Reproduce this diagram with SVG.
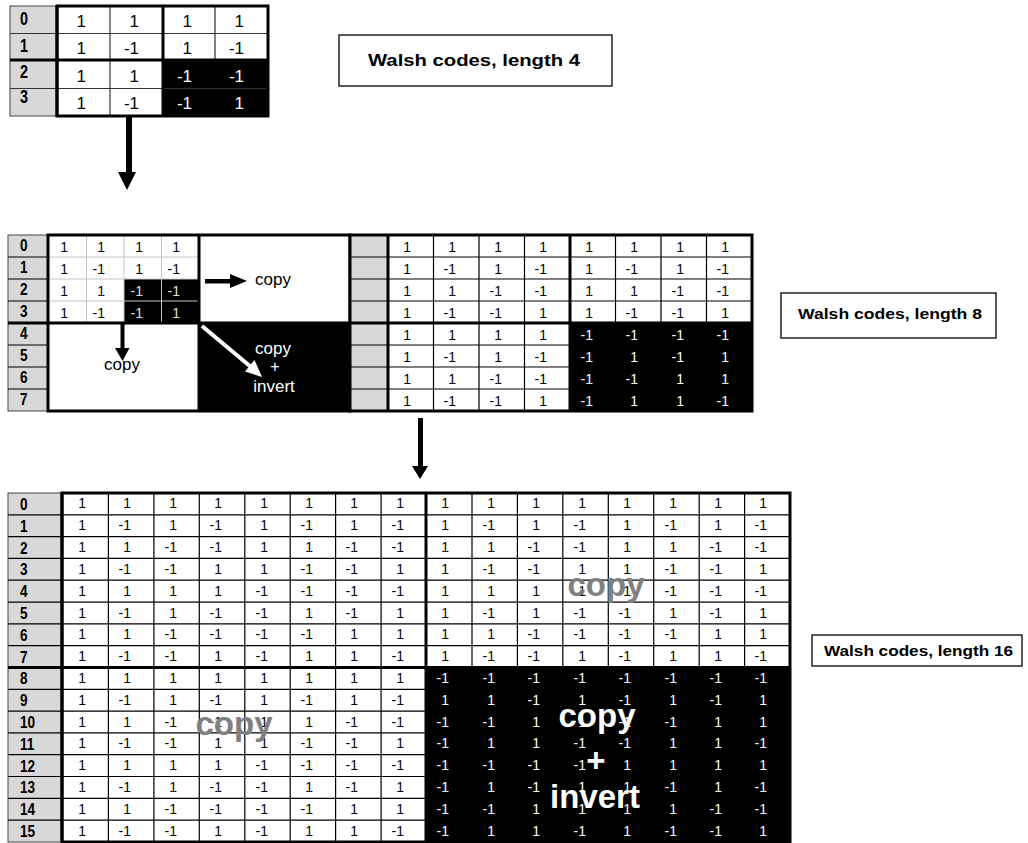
<svg xmlns="http://www.w3.org/2000/svg" width="1028" height="843" viewBox="0 0 1028 843">
<style>
.v{font-family:"Liberation Sans",Arial,sans-serif;font-size:14px;text-anchor:end;fill:#000}
.vt{font-size:17px}
.lab{font-family:"Liberation Sans",Arial,sans-serif;font-weight:bold;font-size:17px;fill:#000}
.gray{fill:#d8d8d8;stroke:#444;stroke-width:1}
.thin{stroke:#000;stroke-width:1.2;fill:none}
.thin2{stroke:#333;stroke-width:1.2;fill:none}
.light{stroke:#c4c4c4;stroke-width:1;fill:none}
.thick{stroke:#000;stroke-width:3;fill:none}
.ann{font-family:"Liberation Sans",Arial,sans-serif;font-size:17px;text-anchor:middle;fill:#000}
.big{font-family:"Liberation Sans",Arial,sans-serif;font-weight:bold;font-size:33px;text-anchor:middle}
.ttl{font-family:"Liberation Sans",Arial,sans-serif;font-weight:bold;fill:#000}
.box{fill:#fff;stroke:#000;stroke-width:1.3}
.w{fill:#fff}
.lg{fill:#e0e0e0}
</style>
<rect width="1028" height="843" fill="#fff"/>

<!-- Length 4 table -->
<g id="table4">
<rect class="gray" x="10" y="6" width="47" height="110"/>
<rect x="57" y="6" width="211" height="110" fill="#fff"/>
<rect x="163" y="60" width="105" height="56" fill="#000"/>
<path class="thin2" d="M10 33.5H268M10 88.5H268M110 6V116M215 6V60"/>
<path class="thick" d="M10 60H268M163 6V116M57 6V116"/>
<rect class="thick" x="57" y="6" width="211" height="110"/>
<g transform="scale(0.8 1)">
<text class="lab" style="font-size:18px" x="25" y="25">0</text>
<text class="lab" style="font-size:18px" x="25" y="52">1</text>
<text class="lab" style="font-size:18px" x="25" y="78">2</text>
<text class="lab" style="font-size:18px" x="25" y="103">3</text>
</g>
<text class="v vt" y="27"><tspan x="86">1</tspan><tspan x="139">1</tspan><tspan x="192">1</tspan><tspan x="244">1</tspan></text>
<text class="v vt" y="54"><tspan x="86">1</tspan><tspan x="139">-1</tspan><tspan x="192">1</tspan><tspan x="244">-1</tspan></text>
<text class="v vt" y="82"><tspan x="86">1</tspan><tspan x="139">1</tspan></text>
<text class="v vt w" y="82"><tspan x="192">-1</tspan><tspan x="244">-1</tspan></text>
<text class="v vt" y="109"><tspan x="86">1</tspan><tspan x="139">-1</tspan></text>
<text class="v vt w" y="109"><tspan x="192">-1</tspan><tspan x="244">1</tspan></text>
</g>

<g id="label4">
<rect class="box" x="339" y="35" width="273" height="51"/>
<text class="ttl" style="font-size:16px" x="368" y="66" textLength="212" lengthAdjust="spacingAndGlyphs">Walsh codes, length 4</text>
</g>

<!-- Length 8 construction (left) -->
<g id="table8build">
<rect class="gray" x="8" y="235" width="40" height="176"/>
<path class="thin" d="M8 257H48M8 279H48M8 301H48M8 345H48M8 367H48M8 389H48"/>
<rect x="48" y="235" width="302" height="176" fill="#fff"/>
<rect x="199" y="323" width="151" height="88" fill="#000"/>
<rect x="124" y="279" width="75" height="44" fill="#000"/>
<path class="light" d="M86.5 235V323M124 235V323M161.5 235V323M49 257H199M49 279H199M49 301H199"/>
<path class="thick" d="M8 323H350M199 235V411"/>
<rect class="thick" x="48" y="235" width="302" height="176"/>
<g transform="scale(0.8 1)">
<text class="lab" x="25" y="251.5">0</text>
<text class="lab" x="25" y="273.5">1</text>
<text class="lab" x="25" y="295.5">2</text>
<text class="lab" x="25" y="317.5">3</text>
<text class="lab" x="25" y="339.5">4</text>
<text class="lab" x="25" y="361.5">5</text>
<text class="lab" x="25" y="383.5">6</text>
<text class="lab" x="25" y="405.5">7</text>
</g>
<text class="v" y="251.5"><tspan x="68">1</tspan><tspan x="105">1</tspan><tspan x="143">1</tspan><tspan x="180">1</tspan></text>
<text class="v" y="273.5"><tspan x="68">1</tspan><tspan x="105">-1</tspan><tspan x="143">1</tspan><tspan x="180">-1</tspan></text>
<text class="v" y="295.5"><tspan x="68">1</tspan><tspan x="105">1</tspan></text>
<text class="v lg" y="295.5"><tspan x="143">-1</tspan><tspan x="180">-1</tspan></text>
<text class="v" y="317.5"><tspan x="68">1</tspan><tspan x="105">-1</tspan></text>
<text class="v lg" y="317.5"><tspan x="143">-1</tspan><tspan x="180">1</tspan></text>
<text class="ann" x="273" y="285">copy</text>
<text class="ann" x="122" y="370">copy</text>
<text class="ann w" x="273" y="354">copy</text>
<text class="ann w" style="font-size:16px" x="275" y="372">+</text>
<text class="ann w" x="274" y="392">invert</text>
</g>

<!-- Length 8 result (right) -->
<g id="table8">
<rect class="gray" x="350" y="235" width="38" height="176"/>
<rect x="388" y="235" width="364" height="176" fill="#fff"/>
<rect x="570" y="323" width="182" height="88" fill="#000"/>
<path class="thin" d="M350 257H752M350 279H752M350 301H752M350 345H752M350 367H752M350 389H752M433.5 235V411M479 235V411M524.5 235V411M615.5 235V323M661 235V323M706.5 235V323"/>
<path class="thick" d="M350 323H752M570 235V411M388 235V411"/>
<rect class="thick" x="350" y="235" width="402" height="176"/>
<text class="v" y="251.5"><tspan x="411">1</tspan><tspan x="456">1</tspan><tspan x="502">1</tspan><tspan x="547">1</tspan><tspan x="593">1</tspan><tspan x="638">1</tspan><tspan x="684">1</tspan><tspan x="729">1</tspan></text>
<text class="v" y="273.5"><tspan x="411">1</tspan><tspan x="456">-1</tspan><tspan x="502">1</tspan><tspan x="547">-1</tspan><tspan x="593">1</tspan><tspan x="638">-1</tspan><tspan x="684">1</tspan><tspan x="729">-1</tspan></text>
<text class="v" y="295.5"><tspan x="411">1</tspan><tspan x="456">1</tspan><tspan x="502">-1</tspan><tspan x="547">-1</tspan><tspan x="593">1</tspan><tspan x="638">1</tspan><tspan x="684">-1</tspan><tspan x="729">-1</tspan></text>
<text class="v" y="317.5"><tspan x="411">1</tspan><tspan x="456">-1</tspan><tspan x="502">-1</tspan><tspan x="547">1</tspan><tspan x="593">1</tspan><tspan x="638">-1</tspan><tspan x="684">-1</tspan><tspan x="729">1</tspan></text>
<text class="v" y="339.5"><tspan x="411">1</tspan><tspan x="456">1</tspan><tspan x="502">1</tspan><tspan x="547">1</tspan></text>
<text class="v w" y="339.5"><tspan x="593">-1</tspan><tspan x="638">-1</tspan><tspan x="684">-1</tspan><tspan x="729">-1</tspan></text>
<text class="v" y="361.5"><tspan x="411">1</tspan><tspan x="456">-1</tspan><tspan x="502">1</tspan><tspan x="547">-1</tspan></text>
<text class="v w" y="361.5"><tspan x="593">-1</tspan><tspan x="638">1</tspan><tspan x="684">-1</tspan><tspan x="729">1</tspan></text>
<text class="v" y="383.5"><tspan x="411">1</tspan><tspan x="456">1</tspan><tspan x="502">-1</tspan><tspan x="547">-1</tspan></text>
<text class="v w" y="383.5"><tspan x="593">-1</tspan><tspan x="638">-1</tspan><tspan x="684">1</tspan><tspan x="729">1</tspan></text>
<text class="v" y="405.5"><tspan x="411">1</tspan><tspan x="456">-1</tspan><tspan x="502">-1</tspan><tspan x="547">1</tspan></text>
<text class="v w" y="405.5"><tspan x="593">-1</tspan><tspan x="638">1</tspan><tspan x="684">1</tspan><tspan x="729">-1</tspan></text>
</g>

<g id="label8">
<rect class="box" x="781" y="293" width="215" height="45"/>
<text class="ttl" style="font-size:15px" x="798" y="319" textLength="184" lengthAdjust="spacingAndGlyphs">Walsh codes, length 8</text>
</g>

<!-- Length 16 table -->
<g id="table16">
<rect class="gray" x="8" y="493" width="54" height="349"/>
<rect x="62" y="493" width="728" height="349" fill="#fff"/>
<rect x="426" y="667.5" width="364" height="174.5" fill="#000"/>
<path class="thin" d="M8 514.8H790M8 536.6H790M8 558.4H790M8 580.2H790M8 602.1H790M8 623.9H790M8 645.7H790M8 689.3H790M8 711.1H790M8 732.9H790M8 754.7H790M8 776.5H790M8 798.3H790M8 820.2H790M108.4 493V842M153.9 493V842M199.3 493V842M244.8 493V842M290.2 493V842M335.6 493V842M381.1 493V842M472 493V667M517.4 493V667M562.8 493V667M608.3 493V667M653.7 493V667M699.2 493V667M744.6 493V667"/>
<path class="thick" d="M8 667.5H790M426 493V842M62 493V842"/>
<rect class="thick" x="62" y="493" width="728" height="349"/>
<g transform="scale(0.8 1)">
<text class="lab" x="25" y="510">0</text>
<text class="lab" x="25" y="532">1</text>
<text class="lab" x="25" y="554">2</text>
<text class="lab" x="25" y="575">3</text>
<text class="lab" x="25" y="597">4</text>
<text class="lab" x="25" y="619">5</text>
<text class="lab" x="25" y="641">6</text>
<text class="lab" x="25" y="663">7</text>
<text class="lab" x="25" y="684">8</text>
<text class="lab" x="25" y="706">9</text>
<text class="lab" x="25" y="728">10</text>
<text class="lab" x="25" y="750">11</text>
<text class="lab" x="25" y="772">12</text>
<text class="lab" x="25" y="793">13</text>
<text class="lab" x="25" y="815">14</text>
<text class="lab" x="25" y="837">15</text>
</g>
<text class="v" y="508"><tspan x="86">1</tspan><tspan x="131">1</tspan><tspan x="177">1</tspan><tspan x="222">1</tspan><tspan x="268">1</tspan><tspan x="313">1</tspan><tspan x="358">1</tspan><tspan x="404">1</tspan><tspan x="449">1</tspan><tspan x="495">1</tspan><tspan x="540">1</tspan><tspan x="586">1</tspan><tspan x="631">1</tspan><tspan x="677">1</tspan><tspan x="722">1</tspan><tspan x="767">1</tspan></text>
<text class="v" y="530"><tspan x="86">1</tspan><tspan x="131">-1</tspan><tspan x="177">1</tspan><tspan x="222">-1</tspan><tspan x="268">1</tspan><tspan x="313">-1</tspan><tspan x="358">1</tspan><tspan x="404">-1</tspan><tspan x="449">1</tspan><tspan x="495">-1</tspan><tspan x="540">1</tspan><tspan x="586">-1</tspan><tspan x="631">1</tspan><tspan x="677">-1</tspan><tspan x="722">1</tspan><tspan x="767">-1</tspan></text>
<text class="v" y="552"><tspan x="86">1</tspan><tspan x="131">1</tspan><tspan x="177">-1</tspan><tspan x="222">-1</tspan><tspan x="268">1</tspan><tspan x="313">1</tspan><tspan x="358">-1</tspan><tspan x="404">-1</tspan><tspan x="449">1</tspan><tspan x="495">1</tspan><tspan x="540">-1</tspan><tspan x="586">-1</tspan><tspan x="631">1</tspan><tspan x="677">1</tspan><tspan x="722">-1</tspan><tspan x="767">-1</tspan></text>
<text class="v" y="574"><tspan x="86">1</tspan><tspan x="131">-1</tspan><tspan x="177">-1</tspan><tspan x="222">1</tspan><tspan x="268">1</tspan><tspan x="313">-1</tspan><tspan x="358">-1</tspan><tspan x="404">1</tspan><tspan x="449">1</tspan><tspan x="495">-1</tspan><tspan x="540">-1</tspan><tspan x="586">1</tspan><tspan x="631">1</tspan><tspan x="677">-1</tspan><tspan x="722">-1</tspan><tspan x="767">1</tspan></text>
<text class="v" y="596"><tspan x="86">1</tspan><tspan x="131">1</tspan><tspan x="177">1</tspan><tspan x="222">1</tspan><tspan x="268">-1</tspan><tspan x="313">-1</tspan><tspan x="358">-1</tspan><tspan x="404">-1</tspan><tspan x="449">1</tspan><tspan x="495">1</tspan><tspan x="540">1</tspan><tspan x="586">1</tspan><tspan x="631">-1</tspan><tspan x="677">-1</tspan><tspan x="722">-1</tspan><tspan x="767">-1</tspan></text>
<text class="v" y="618"><tspan x="86">1</tspan><tspan x="131">-1</tspan><tspan x="177">1</tspan><tspan x="222">-1</tspan><tspan x="268">-1</tspan><tspan x="313">1</tspan><tspan x="358">-1</tspan><tspan x="404">1</tspan><tspan x="449">1</tspan><tspan x="495">-1</tspan><tspan x="540">1</tspan><tspan x="586">-1</tspan><tspan x="631">-1</tspan><tspan x="677">1</tspan><tspan x="722">-1</tspan><tspan x="767">1</tspan></text>
<text class="v" y="639"><tspan x="86">1</tspan><tspan x="131">1</tspan><tspan x="177">-1</tspan><tspan x="222">-1</tspan><tspan x="268">-1</tspan><tspan x="313">-1</tspan><tspan x="358">1</tspan><tspan x="404">1</tspan><tspan x="449">1</tspan><tspan x="495">1</tspan><tspan x="540">-1</tspan><tspan x="586">-1</tspan><tspan x="631">-1</tspan><tspan x="677">-1</tspan><tspan x="722">1</tspan><tspan x="767">1</tspan></text>
<text class="v" y="661"><tspan x="86">1</tspan><tspan x="131">-1</tspan><tspan x="177">-1</tspan><tspan x="222">1</tspan><tspan x="268">-1</tspan><tspan x="313">1</tspan><tspan x="358">1</tspan><tspan x="404">-1</tspan><tspan x="449">1</tspan><tspan x="495">-1</tspan><tspan x="540">-1</tspan><tspan x="586">1</tspan><tspan x="631">-1</tspan><tspan x="677">1</tspan><tspan x="722">1</tspan><tspan x="767">-1</tspan></text>
<text class="v" y="683"><tspan x="86">1</tspan><tspan x="131">1</tspan><tspan x="177">1</tspan><tspan x="222">1</tspan><tspan x="268">1</tspan><tspan x="313">1</tspan><tspan x="358">1</tspan><tspan x="404">1</tspan></text>
<text class="v w" y="683"><tspan x="449">-1</tspan><tspan x="495">-1</tspan><tspan x="540">-1</tspan><tspan x="586">-1</tspan><tspan x="631">-1</tspan><tspan x="677">-1</tspan><tspan x="722">-1</tspan><tspan x="767">-1</tspan></text>
<text class="v" y="705"><tspan x="86">1</tspan><tspan x="131">-1</tspan><tspan x="177">1</tspan><tspan x="222">-1</tspan><tspan x="268">1</tspan><tspan x="313">-1</tspan><tspan x="358">1</tspan><tspan x="404">-1</tspan></text>
<text class="v w" y="705"><tspan x="449">1</tspan><tspan x="495">1</tspan><tspan x="540">-1</tspan><tspan x="586">1</tspan><tspan x="631">-1</tspan><tspan x="677">1</tspan><tspan x="722">-1</tspan><tspan x="767">1</tspan></text>
<text class="v" y="727"><tspan x="86">1</tspan><tspan x="131">1</tspan><tspan x="177">-1</tspan><tspan x="222">-1</tspan><tspan x="268">1</tspan><tspan x="313">1</tspan><tspan x="358">-1</tspan><tspan x="404">-1</tspan></text>
<text class="v w" y="727"><tspan x="449">-1</tspan><tspan x="495">-1</tspan><tspan x="540">1</tspan><tspan x="586">1</tspan><tspan x="631">-1</tspan><tspan x="677">-1</tspan><tspan x="722">1</tspan><tspan x="767">1</tspan></text>
<text class="v" y="748"><tspan x="86">1</tspan><tspan x="131">-1</tspan><tspan x="177">-1</tspan><tspan x="222">1</tspan><tspan x="268">1</tspan><tspan x="313">-1</tspan><tspan x="358">-1</tspan><tspan x="404">1</tspan></text>
<text class="v w" y="748"><tspan x="449">-1</tspan><tspan x="495">1</tspan><tspan x="540">1</tspan><tspan x="586">-1</tspan><tspan x="631">-1</tspan><tspan x="677">1</tspan><tspan x="722">1</tspan><tspan x="767">-1</tspan></text>
<text class="v" y="770"><tspan x="86">1</tspan><tspan x="131">1</tspan><tspan x="177">1</tspan><tspan x="222">1</tspan><tspan x="268">-1</tspan><tspan x="313">-1</tspan><tspan x="358">-1</tspan><tspan x="404">-1</tspan></text>
<text class="v w" y="770"><tspan x="449">-1</tspan><tspan x="495">-1</tspan><tspan x="540">-1</tspan><tspan x="586">-1</tspan><tspan x="631">1</tspan><tspan x="677">1</tspan><tspan x="722">1</tspan><tspan x="767">1</tspan></text>
<text class="v" y="792"><tspan x="86">1</tspan><tspan x="131">-1</tspan><tspan x="177">1</tspan><tspan x="222">-1</tspan><tspan x="268">-1</tspan><tspan x="313">1</tspan><tspan x="358">-1</tspan><tspan x="404">1</tspan></text>
<text class="v w" y="792"><tspan x="449">-1</tspan><tspan x="495">1</tspan><tspan x="540">-1</tspan><tspan x="586">1</tspan><tspan x="631">1</tspan><tspan x="677">-1</tspan><tspan x="722">1</tspan><tspan x="767">-1</tspan></text>
<text class="v" y="814"><tspan x="86">1</tspan><tspan x="131">1</tspan><tspan x="177">-1</tspan><tspan x="222">-1</tspan><tspan x="268">-1</tspan><tspan x="313">-1</tspan><tspan x="358">1</tspan><tspan x="404">1</tspan></text>
<text class="v w" y="814"><tspan x="449">-1</tspan><tspan x="495">-1</tspan><tspan x="540">1</tspan><tspan x="586">1</tspan><tspan x="631">1</tspan><tspan x="677">1</tspan><tspan x="722">-1</tspan><tspan x="767">-1</tspan></text>
<text class="v" y="836"><tspan x="86">1</tspan><tspan x="131">-1</tspan><tspan x="177">-1</tspan><tspan x="222">1</tspan><tspan x="268">-1</tspan><tspan x="313">1</tspan><tspan x="358">1</tspan><tspan x="404">-1</tspan></text>
<text class="v w" y="836"><tspan x="449">-1</tspan><tspan x="495">1</tspan><tspan x="540">1</tspan><tspan x="586">-1</tspan><tspan x="631">1</tspan><tspan x="677">-1</tspan><tspan x="722">-1</tspan><tspan x="767">1</tspan></text>
<text class="big" fill="#808080" x="606" y="596">copy</text>
<text class="big" fill="#808080" x="234" y="735">copy</text>
<text class="big" fill="#fff" x="597" y="727">copy</text>
<text class="big" fill="#fff" x="596" y="772">+</text>
<text class="big" fill="#fff" x="595" y="808">invert</text>
</g>

<g id="label16">
<rect class="box" x="812" y="635" width="210" height="31"/>
<text class="ttl" style="font-size:15px" x="824" y="656" textLength="189" lengthAdjust="spacingAndGlyphs">Walsh codes, length 16</text>
</g>

<g id="connectors">
<rect x="126" y="117" width="6" height="56" fill="#000"/>
<polygon points="118,172 136,172 127,190" fill="#000"/>
<rect x="418" y="418" width="5" height="50" fill="#000"/>
<polygon points="412,466 428,466 420,479" fill="#000"/>
<rect x="205" y="279" width="27" height="4.5" fill="#000"/>
<polygon points="230,274 247,281 230,288" fill="#000"/>
<rect x="120.5" y="324" width="4" height="26" fill="#000"/>
<polygon points="115,348 129.5,348 122.5,361" fill="#000"/>
<line x1="202" y1="326" x2="251" y2="367" stroke="#fff" stroke-width="4"/>
<polygon points="245,371.5 254.5,360 262,377" fill="#fff"/>
</g>
</svg>
